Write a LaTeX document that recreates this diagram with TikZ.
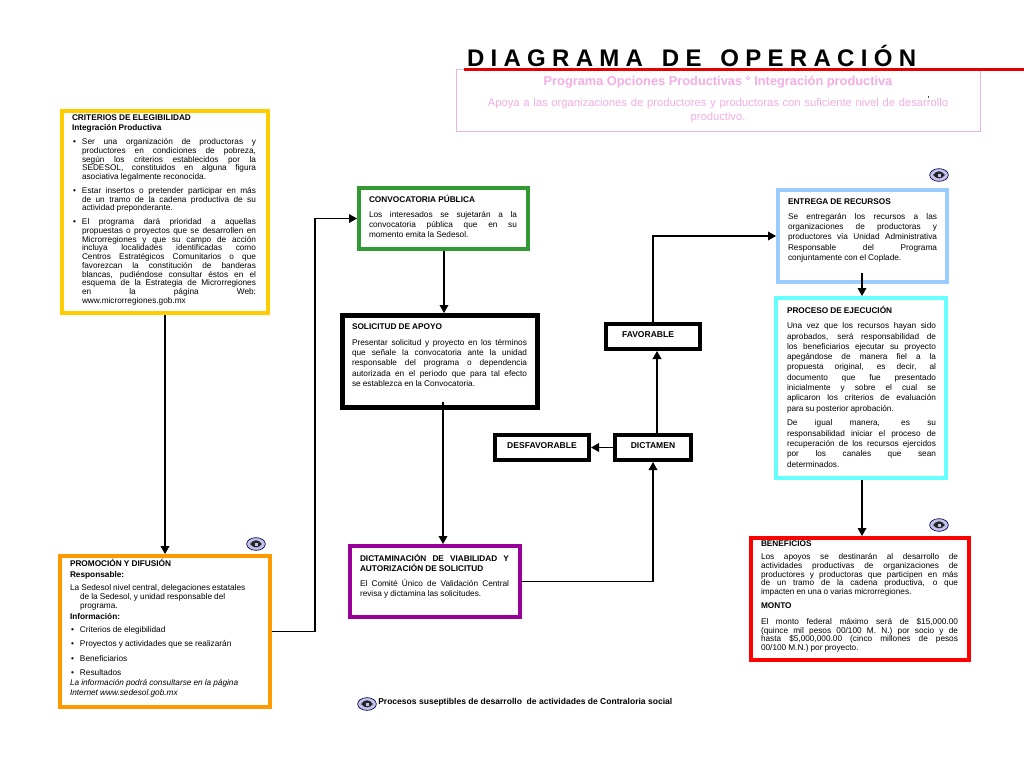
\documentclass[tikz,border=0pt]{standalone}
\usepackage{fontspec}
\setmainfont{Liberation Sans}
\usetikzlibrary{arrows.meta,shapes.geometric}
\definecolor{cyel}{HTML}{FFCC00}
\definecolor{cora}{HTML}{FF9900}
\definecolor{cpur}{HTML}{990099}
\definecolor{cgre}{HTML}{339933}
\definecolor{cblu}{HTML}{99CCFF}
\definecolor{ccya}{HTML}{66FFFF}
\definecolor{cred}{HTML}{FF0000}
\definecolor{cpink}{HTML}{E8B4E0}
\definecolor{cpinkt}{HTML}{F2AEE4}
\definecolor{ceye}{HTML}{C4C2EA}
\tikzset{
  txt/.style={anchor=north west,inner sep=0pt,outer sep=0pt},
  arr/.style={draw=black,line width=1pt,-{Triangle[length=6pt,width=6.5pt]}},
  lbl/.style={inner sep=0pt,font=\fontsize{6.4pt}{7.6pt}\selectfont\bfseries}
}
% lw, name, colour, x1,y1,x2,y2 (outer edges, in reference pixels)
\newcommand\flowbox[7]{%
  \node[draw=#3,line width=#1*0.75pt,minimum width={(#6-#4-#1)*0.75pt},minimum height={(#7-#5-#1)*0.75pt},inner sep=0pt] (#2) at ({(#4+#6)/2},{(#5+#7)/2}) {};}
% name, x, centre y of first line, width, leading(pt), content
\newcommand\boxtext[6]{%
  \node[txt,text width=#4*0.75pt] (#1) at (#2,{#3-3.2}) {\fontsize{6.2pt}{#5pt}\selectfont
    \tolerance=10000\hyphenpenalty=10000\parskip=0pt\parindent=0pt
    \rightskip=0pt\relax\parfillskip=0pt plus 1fil\relax
    \spaceskip=.25em plus 1.5em minus .06em\relax
    \noindent\rule{0pt}{5pt}\ignorespaces #6\par};}
\newcommand\gap[1]{\par\vspace{\dimexpr #1pt*3/4\relax}}
\newcommand\bul[2]{{\leftskip=\dimexpr #1pt*3/4\relax\noindent\llap{\makebox[\dimexpr #1pt*3/4-0.75pt\relax][l]{•}}#2\par}}
\newcommand\eye[3]{%
  \node[ellipse,draw=black!70!blue,fill=ceye,line width=.5pt,minimum width=14pt,minimum height=9.5pt,inner sep=0pt] (#1) at (#2,#3) {};
  \fill[black!85] ({#2-6},#3) .. controls ({#2-2},{#3-5}) and ({#2+2},{#3-5}) .. ({#2+6},#3) .. controls ({#2+2},{#3+4.5}) and ({#2-2},{#3+4.5}) .. cycle;
  \fill[ceye] ({#2-1.5},{#3-1}) rectangle ({#2+1.5},{#3+2});}
\begin{document}
\begin{tikzpicture}[x=0.75pt,y=-0.75pt]
\useasboundingbox[fill=white] (0,0) rectangle (1024,768);

% header
\node[txt,font=\fontsize{18pt}{18pt}\selectfont\bfseries] (title) at (467,45) {\spaceskip=4.72pt D I A G R A M A\ \ \ D E\ \ \ O P E R A C I Ó N};
\node[draw=cpink,line width=.75pt,minimum width={524*0.75pt},minimum height={62*0.75pt},inner sep=0pt] (head) at (718,100) {};
\coordinate (redL) at (464,69.5);
\coordinate (redR) at (1024,69.5);
\draw[line width=2.4pt,color=red!90!black] (redL) -- (redR);
\node[inner sep=0pt,text=cpinkt,font=\fontsize{9.6pt}{10pt}\selectfont\bfseries] (headA) at (718,82.5) {Programa Opciones Productivas ° Integración productiva};
\node[inner sep=0pt,text=cpinkt,text width={500*0.75pt},align=center,font=\fontsize{8.43pt}{10.5pt}\selectfont] (headB) at (718,111) {Apoya a las organizaciones de productores y productoras con suficiente nivel de desarrollo\\productivo.};
\fill[black!70] (927.8,95.5) rectangle (928.3,97.5);

% boxes
\flowbox{4}{crit}{cyel}{60}{109}{270}{315}
\flowbox{4}{prom}{cora}{58}{554}{272}{709}
\flowbox{4}{conv}{cgre}{357}{186}{530}{251}
\flowbox{5}{soli}{black}{340}{313}{540}{410}
\flowbox{4}{dicm}{cpur}{348}{544}{522}{619}
\flowbox{4}{fav}{black}{604}{322}{702}{351}
\flowbox{4}{des}{black}{493}{433}{591}{462}
\flowbox{4}{dict}{black}{613}{433}{693}{462}
\flowbox{4}{entr}{cblu}{776}{188}{949}{284}
\flowbox{4}{proc}{ccya}{774}{296}{948}{480}
\flowbox{4}{bene}{cred}{749}{536}{971}{662}

% texts
\boxtext{critT}{72}{117}{184}{6.55}{\textbf{CRITERIOS  DE ELEGIBILIDAD}\gap{1.3}\textbf{Integración Productiva}\gap{5.3}
\bul{10}{Ser una organización de productoras y\linebreak productores en condiciones de pobreza,\linebreak según los criterios establecidos por la\linebreak SEDESOL, constituidos en alguna figura\linebreak asociativa legalmente reconocida.}\gap{5.3}
\bul{10}{Estar insertos o pretender participar en más\linebreak de un tramo de la cadena productiva de su\linebreak actividad preponderante.}\gap{5}
\bul{10}{El programa dará prioridad a aquellas\linebreak propuestas o proyectos que se desarrollen en\linebreak Microrregiones y que su campo de acción\linebreak incluya localidades identificadas como\linebreak Centros Estratégicos Comunitarios o que\linebreak favorezcan la constitución de banderas\linebreak blancas, pudiéndose consultar éstos en el\linebreak esquema de la Estrategia de Microrregiones\linebreak en la página Web:\linebreak www.microrregiones.gob.mx}}

\boxtext{promT}{70}{562}{185}{6.75}{\textbf{PROMOCIÓN Y DIFUSIÓN}\gap{2}\textbf{Responsable:}\gap{4}
{\hangindent=7.5pt\hangafter=1 La Sedesol nivel central, delegaciones estatales\newline de la Sedesol, y unidad responsable del\newline programa.\par}\gap{2}\textbf{Información:}\gap{4}
\bul{10}{Criterios de elegibilidad}\gap{5}
\bul{10}{Proyectos y actividades que se realizarán}\gap{6}
\bul{10}{Beneficiarios}\gap{5}
\bul{10}{Resultados}\gap{1.5}
\textit{La información podrá consultarse en la página}\gap{.5}\textit{Internet www.sedesol.gob.mx}}

\boxtext{convT}{369}{198}{148}{7.7}{\textbf{CONVOCATORIA PÚBLICA}\gap{4.7}
Los interesados se sujetarán a la\linebreak convocatoria pública que en su\linebreak momento emita la Sedesol.}

\boxtext{soliT}{352}{326}{175}{7.7}{\textbf{SOLICITUD DE APOYO}\gap{5.7}
Presentar solicitud y proyecto en los términos\linebreak que señale la convocatoria ante la unidad\linebreak responsable del programa o dependencia\linebreak autorizada en el periodo que para tal efecto\linebreak se establezca en la Convocatoria.}

\boxtext{dicmT}{360}{557}{149}{7.7}{\textbf{DICTAMINACIÓN DE VIABILIDAD Y\linebreak AUTORIZACIÓN DE SOLICITUD}\gap{4.7}
El Comité Único de Validación Central\linebreak revisa y dictamina las solicitudes.}

\boxtext{entrT}{788}{201}{149}{7.7}{\textbf{ENTREGA DE RECURSOS}\gap{4.7}
Se entregarán los recursos a las\linebreak organizaciones de productoras y\linebreak productores vía Unidad Administrativa\linebreak Responsable del Programa\linebreak conjuntamente con el Coplade.}

\boxtext{procT}{787}{309}{149}{7.7}{\textbf{PROCESO DE EJECUCIÓN}\gap{5.5}
Una vez que los recursos hayan sido\linebreak aprobados, será responsabilidad de\linebreak los beneficiarios ejecutar su proyecto\linebreak apegándose de manera fiel a la\linebreak propuesta original, es decir, al\linebreak documento que fue presentado\linebreak inicialmente y sobre el cual se\linebreak aplicaron los criterios de evaluación\linebreak para su posterior aprobación.\gap{4.7}
De igual manera, es su\linebreak responsabilidad iniciar el proceso de\linebreak recuperación de los recursos ejercidos\linebreak por los canales que sean\linebreak determinados.}

\boxtext{beneT}{761}{543}{197}{6.6}{\textbf{BENEFICIOS}\gap{4.2}
Los apoyos se destinarán al desarrollo de\linebreak actividades productivas de organizaciones de\linebreak productores y productoras que participen en más\linebreak de un tramo de la cadena productiva, o que\linebreak impacten en una o varias microrregiones.\gap{5}
\textbf{MONTO}\gap{7}
El monto federal máximo será de \$15,000.00\linebreak (quince mil pesos 00/100 M. N.) por socio y de\linebreak hasta \$5,000,000.00 (cinco millones de pesos\linebreak 00/100 M.N.) por proyecto.}

\node[lbl] (favT) at (648,334.5) {FAVORABLE};
\node[lbl] (desT) at (542,445.5) {DESFAVORABLE};
\node[lbl] (dictT) at (653,445.5) {DICTAMEN};

% eyes
\eye{eyeA}{939}{175}
\eye{eyeB}{939}{525}
\eye{eyeC}{256}{544}
\eye{eyeD}{367}{704}
\node[anchor=west,inner sep=0pt,font=\fontsize{6.4pt}{7.6pt}\selectfont\bfseries] (legend) at (378,702) {Procesos suseptibles de desarrollo\ \ de actividades de Contraloria social};

% connectors
\coordinate (critOut) at (165,315);
\draw[arr] (crit.south -| critOut) -- (prom.north -| critOut);
\draw[arr] (prom.east) -- (315,631.5) |- (conv.west);
\coordinate (convOut) at (444,251);
\draw[arr] (convOut) -- (convOut |- soli.north);
\coordinate (soliOut) at (443,402);
\draw[arr] (soliOut) -- (soliOut |- dicm.north);
\draw[arr] (dicm.east) -| (dict.south);
\coordinate (favIn) at (657,433);
\draw[arr] (favIn) -- (favIn |- fav.south);
\draw[arr] (dict.west) -- (des.east);
\draw[arr] (fav.north) |- (entr.west);
\coordinate (entrOut) at (862,273);
\draw[arr] (entrOut) -- (entrOut |- proc.north);
\coordinate (procOut) at (862,480);
\draw[arr] (procOut) -- (procOut |- bene.north);
\end{tikzpicture}
\end{document}
